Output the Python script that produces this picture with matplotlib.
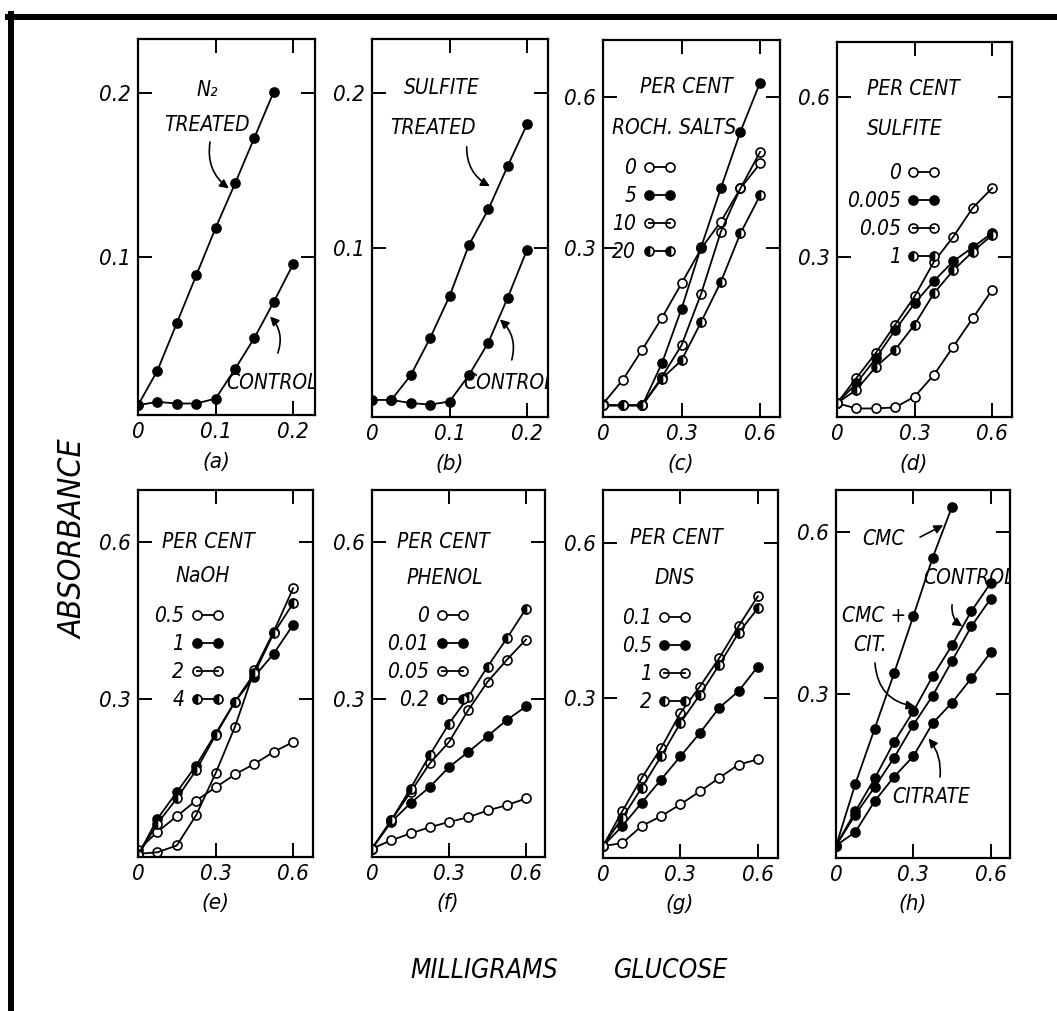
import matplotlib
matplotlib.use("Agg")
import matplotlib.pyplot as plt
from matplotlib.lines import Line2D

plt.rcParams['font.family'] = ['DejaVu Sans']
plt.rcParams['font.style'] = 'italic'
plt.rcParams['font.stretch'] = 'condensed'

# ---- values ----
# top row, panels (a) and (b): mg glucose 0 .. 0.2
X_SMALL = [0, 0.025, 0.05, 0.075, 0.1, 0.125, 0.15, 0.175, 0.2]
A_N2_X = [0, 0.025, 0.05, 0.075, 0.1, 0.125, 0.15, 0.175]
A_N2 = [0.010, 0.031, 0.060, 0.089, 0.118, 0.145, 0.173, 0.201]
A_CONTROL = [0.010, 0.012, 0.011, 0.011, 0.014, 0.032, 0.051, 0.073, 0.096]

B_SULFITE_X = [0.025, 0.05, 0.075, 0.1, 0.125, 0.15, 0.175, 0.2]
B_SULFITE = [0.002, 0.018, 0.042, 0.069, 0.102, 0.125, 0.153, 0.180]
B_CONTROL = [0.002, 0.002, 0.000, -0.001, 0.001, 0.018, 0.039, 0.068, 0.099]

# the other panels: mg glucose 0 .. 0.6
X_BIG = [0, 0.075, 0.15, 0.225, 0.3, 0.375, 0.45, 0.525, 0.6]

C_LABELS = ['0', '5', '10', '20']
C_0 = [-0.007, 0.040, 0.100, 0.163, 0.231, 0.300, 0.353, 0.419, 0.468]
C_5 = [-0.010, -0.010, -0.010, 0.073, 0.181, 0.303, 0.419, 0.531, 0.628]
C_10 = [-0.010, -0.010, -0.010, 0.046, 0.109, 0.211, 0.333, 0.419, 0.491]
C_20 = [-0.010, -0.010, -0.010, 0.043, 0.079, 0.155, 0.234, 0.330, 0.405]

D_LABELS = ['0', '0.005', '0.05', '1']
D_0 = [0.026, 0.016, 0.016, 0.018, 0.038, 0.079, 0.132, 0.185, 0.238]
D_0005 = [0.026, 0.063, 0.110, 0.163, 0.213, 0.255, 0.292, 0.318, 0.345]
D_005 = [0.026, 0.073, 0.120, 0.173, 0.226, 0.291, 0.338, 0.392, 0.429]
D_1 = [0.026, 0.051, 0.094, 0.126, 0.173, 0.232, 0.275, 0.310, 0.341]

E_LABELS = ['0.5', '1', '2', '4']
E_05 = [0.010, 0.045, 0.075, 0.105, 0.130, 0.155, 0.175, 0.198, 0.217]
E_1 = [0.000, 0.070, 0.121, 0.172, 0.233, 0.294, 0.342, 0.386, 0.441]
E_2 = [0.003, 0.006, 0.019, 0.077, 0.157, 0.246, 0.354, 0.428, 0.511]
E_4 = [0.000, 0.061, 0.109, 0.163, 0.230, 0.294, 0.348, 0.425, 0.482]

F_LABELS = ['0', '0.01', '0.05', '0.2']
F_0 = [0.013, 0.029, 0.042, 0.054, 0.064, 0.073, 0.086, 0.096, 0.109]
F_001 = [0.013, 0.064, 0.100, 0.131, 0.169, 0.198, 0.228, 0.259, 0.285]
F_005 = [0.013, 0.067, 0.121, 0.176, 0.217, 0.278, 0.332, 0.374, 0.413]
F_02 = [0.013, 0.067, 0.128, 0.192, 0.252, 0.303, 0.361, 0.415, 0.472]

G_LABELS = ['0.1', '0.5', '1', '2']
G_01 = [0.013, 0.019, 0.052, 0.071, 0.094, 0.119, 0.145, 0.171, 0.181]
G_05 = [0.013, 0.052, 0.097, 0.142, 0.187, 0.232, 0.281, 0.313, 0.361]
G_1 = [0.013, 0.081, 0.145, 0.203, 0.271, 0.322, 0.377, 0.439, 0.497]
G_2 = [0.013, 0.068, 0.126, 0.187, 0.252, 0.306, 0.364, 0.426, 0.474]

H_CMC_X = [0, 0.075, 0.15, 0.225, 0.3, 0.375, 0.45]
H_CMC = [0.019, 0.134, 0.236, 0.338, 0.444, 0.552, 0.646]
H_CONTROL = [0.020, 0.083, 0.144, 0.211, 0.268, 0.333, 0.390, 0.453, 0.505]
H_CMC_CIT = [0.020, 0.077, 0.128, 0.182, 0.243, 0.297, 0.361, 0.425, 0.476]
H_CITRATE = [0.020, 0.045, 0.102, 0.147, 0.185, 0.246, 0.284, 0.329, 0.377]

# ---- layout (pixel boxes of the panels in the scan) ----
W, H = 1057, 1011
BOXES = {
    'a': (138, 39, 177, 376), 'b': (372, 39, 176, 378),
    'c': (603, 40, 177, 377), 'd': (837, 42, 175, 375),
    'e': (138, 490, 175, 367), 'f': (372, 490, 173, 367),
    'g': (603, 490, 175, 368), 'h': (836, 490, 174, 368),
}
LIMS = {
    'a': ((0, 0.228), (0.004, 0.233)), 'b': ((0, 0.227), (-0.009, 0.235)),
    'c': ((0, 0.676), (-0.033, 0.712)), 'd': ((0, 0.677), (0, 0.703)),
    'e': ((0, 0.677), (-0.003, 0.699)), 'f': ((0, 0.674), (-0.003, 0.699)),
    'g': ((0, 0.678), (-0.010, 0.703)), 'h': ((0, 0.675), (-0.003, 0.677)),
}

LW = 1.3
MS = 6.5
TXT = 15
STYLES = [
    dict(marker='o', mfc='white', mec='black'),                      # open
    dict(marker='o', mfc='black', mec='black'),                      # filled
    dict(marker='o', fillstyle='none', mec='black'),                 # line through
    dict(marker='o', fillstyle='left', mfc='black', mfcalt='white',
         mec='black'),                                               # half
]

fig = plt.figure(figsize=(W / 100, H / 100), dpi=100)


def make_axes(key, small):
    left, top, w, h = BOXES[key]
    ax = fig.add_axes([left / W, 1 - (top + h) / H, w / W, h / H])
    ax.set_xlim(*LIMS[key][0])
    ax.set_ylim(*LIMS[key][1])
    if small:
        ax.set_xticks([0, 0.1, 0.2], ['0', '0.1', '0.2'])
        ax.set_yticks([0.1, 0.2], ['0.1', '0.2'])
    else:
        ax.set_xticks([0, 0.3, 0.6], ['0', '0.3', '0.6'])
        ax.set_yticks([0.3, 0.6], ['0.3', '0.6'])
    ax.tick_params(direction='in', length=10, width=1.4, top=True, right=True,
                   labelsize=16, pad=5)
    for s in ax.spines.values():
        s.set_linewidth(1.6)
    ax.text(0.44, -0.125, '(' + key + ')', transform=ax.transAxes,
            ha='center', va='center', fontsize=16)
    return ax


def curve(ax, x, y, style=1, label=None):
    ax.plot(x, y, color='black', lw=LW, ms=MS, mew=1.2, label=label,
            **STYLES[style])


def arrow(ax, xy, start, rad):
    ax.annotate('', xy=xy, xytext=start, textcoords='axes fraction',
                arrowprops=dict(arrowstyle='-|>', lw=1.2, color='black',
                                mutation_scale=13, shrinkA=0, shrinkB=0,
                                connectionstyle='arc3,rad=%s' % rad))


def label(ax, x, y, s, ha='center', clip=False):
    ax.text(x, y, s, transform=ax.transAxes, ha=ha, va='center',
            fontsize=TXT, clip_on=clip)


def series_legend(ax, x, y):
    ax.legend(loc='upper right', bbox_to_anchor=(x, y), markerfirst=False,
              frameon=False, borderpad=0, handlelength=1.6,
              handletextpad=0.3, labelspacing=0.38, numpoints=2,
              prop=dict(size=TXT))


# (a)
ax = make_axes('a', True)
curve(ax, A_N2_X, A_N2)
curve(ax, X_SMALL, A_CONTROL)
label(ax, 0.39, 0.864, 'N₂')
label(ax, 0.39, 0.771, 'TREATED')
arrow(ax, (0.117, 0.142), (0.407, 0.726), 0.3)
label(ax, 0.50, 0.085, 'CONTROL', ha='left', clip=True)
arrow(ax, (0.170, 0.064), (0.79, 0.165), 0.3)

# (b)
ax = make_axes('b', True)
curve(ax, B_SULFITE_X, B_SULFITE)
curve(ax, X_SMALL, B_CONTROL)
label(ax, 0.396, 0.870, 'SULFITE')
label(ax, 0.347, 0.765, 'TREATED')
arrow(ax, (0.152, 0.140), (0.538, 0.715), 0.3)
label(ax, 0.52, 0.090, 'CONTROL', ha='left', clip=True)
arrow(ax, (0.165, 0.054), (0.794, 0.151), 0.3)

# (c)
ax = make_axes('c', False)
for i, ys in enumerate([C_0, C_5, C_10, C_20]):
    curve(ax, X_BIG, ys, i, C_LABELS[i])
label(ax, 0.473, 0.875, 'PER CENT')
label(ax, 0.401, 0.767, 'ROCH. SALTS')
series_legend(ax, 0.47, 0.714)

# (d)
ax = make_axes('d', False)
for i, ys in enumerate([D_0, D_0005, D_005, D_1]):
    curve(ax, X_BIG, ys, i, D_LABELS[i])
label(ax, 0.434, 0.875, 'PER CENT')
label(ax, 0.389, 0.769, 'SULFITE')
series_legend(ax, 0.65, 0.704)

# (e)
ax = make_axes('e', False)
for i, ys in enumerate([E_05, E_1, E_2, E_4]):
    curve(ax, X_BIG, ys, i, E_LABELS[i])
label(ax, 0.40, 0.858, 'PER CENT')
label(ax, 0.371, 0.766, 'NaOH')
series_legend(ax, 0.55, 0.711)

# (f)
ax = make_axes('f', False)
for i, ys in enumerate([F_0, F_001, F_005, F_02]):
    curve(ax, X_BIG, ys, i, F_LABELS[i])
label(ax, 0.41, 0.858, 'PER CENT')
label(ax, 0.419, 0.760, 'PHENOL')
series_legend(ax, 0.62, 0.711)

# (g)
ax = make_axes('g', False)
for i, ys in enumerate([G_01, G_05, G_1, G_2]):
    curve(ax, X_BIG, ys, i, G_LABELS[i])
label(ax, 0.417, 0.870, 'PER CENT')
label(ax, 0.411, 0.761, 'DNS')
series_legend(ax, 0.565, 0.707)

# (h)
ax = make_axes('h', False)
curve(ax, H_CMC_X, H_CMC)
curve(ax, X_BIG, H_CONTROL)
curve(ax, X_BIG, H_CMC_CIT)
curve(ax, X_BIG, H_CITRATE)
label(ax, 0.27, 0.867, 'CMC')
arrow(ax, (0.416, 0.612), (0.483, 0.872), 0.0)
label(ax, 0.50, 0.761, 'CONTROL', ha='left', clip=True)
arrow(ax, (0.49, 0.425), (0.667, 0.688), 0.3)
label(ax, 0.219, 0.658, 'CMC +')
label(ax, 0.195, 0.579, 'CIT.')
arrow(ax, (0.308, 0.277), (0.224, 0.53), 0.4)
label(ax, 0.322, 0.166, 'CITRATE', ha='left')
arrow(ax, (0.359, 0.218), (0.598, 0.22), 0.2)

# shared axis titles
fig.text(74 / W, 1 - 539 / H, 'ABSORBANCE', rotation=90, ha='center',
         va='center', fontsize=23)
fig.text(484 / W, 1 - 971 / H, 'MILLIGRAMS', ha='center', va='center',
         fontsize=19)
fig.text(671 / W, 1 - 971 / H, 'GLUCOSE', ha='center', va='center',
         fontsize=19)

# heavy frame of the scanned page (top and left edges)
fig.add_artist(Line2D([8 / W, 1], [1 - 17 / H, 1 - 17 / H], lw=4.3,
                      color='black', transform=fig.transFigure))
fig.add_artist(Line2D([11 / W, 11 / W], [0, 1 - 14 / H], lw=4.3,
                      color='black', transform=fig.transFigure))

fig.savefig('out.png', dpi=100)
